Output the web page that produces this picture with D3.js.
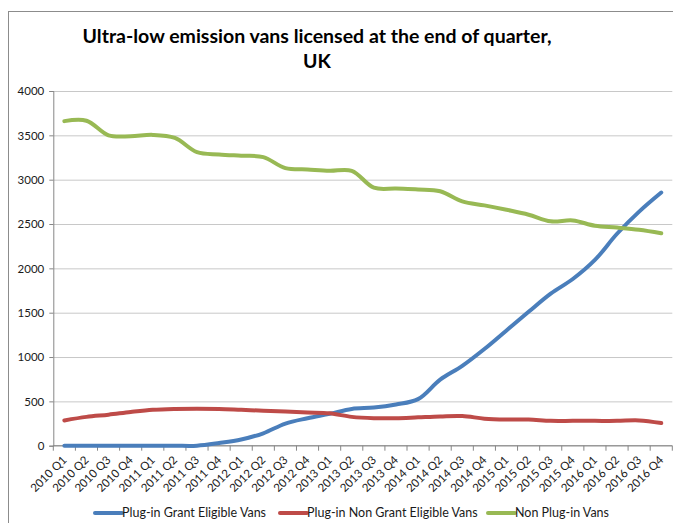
<!DOCTYPE html>
<html>
<head>
<meta charset="utf-8">
<script src="https://cdn.jsdelivr.net/npm/d3@7"></script>
<style>
  body { margin: 0; background: #fff; }
  svg { display: block; font-family: Lato, "Open Sans", sans-serif; }
</style>
</head>
<body>
<svg class="chart"></svg>
<script>
var quarters = ["2010 Q1","2010 Q2","2010 Q3","2010 Q4","2011 Q1","2011 Q2","2011 Q3","2011 Q4",
  "2012 Q1","2012 Q2","2012 Q3","2012 Q4","2013 Q1","2013 Q2","2013 Q3","2013 Q4",
  "2014 Q1","2014 Q2","2014 Q3","2014 Q4","2015 Q1","2015 Q2","2015 Q3","2015 Q4",
  "2016 Q1","2016 Q2","2016 Q3","2016 Q4"];

var grantEligible = [0,0,0,0,0,0,0,30,70,140,250,310,360,415,430,465,
  525,745,900,1090,1300,1510,1715,1880,2095,2390,2640,2855];
var nonGrantEligible = [285,325,350,380,405,415,418,415,405,395,385,375,365,325,310,310,
  320,330,335,305,295,295,280,280,280,280,285,255];
var nonPlugIn = [3660,3665,3500,3490,3505,3470,3310,3285,3270,3255,3130,3115,3100,3100,2910,2900,
  2890,2870,2755,2710,2660,2605,2530,2540,2480,2460,2435,2395];

var seriesNames = ["Plug-in Grant Eligible Vans", "Plug-in Non Grant Eligible Vans", "Non Plug-in Vans"];
var seriesValues = [grantEligible, nonGrantEligible, nonPlugIn];
var seriesColors = ["#4a7ebb", "#be4b48", "#98b954"];
var yTicks = [0,500,1000,1500,2000,2500,3000,3500,4000];
var titleLines = ["Ultra-low emission vans licensed at the end of quarter,", "UK"];

var W = 673, H = 523;
var plotLeft = 53.3, plotRight = 672.3, plotTop = 91, plotBottom = 445.7;

var svg = d3.select(".chart").attr("width", W).attr("height", H);

// outer chart frame (runs off the right/bottom of the picture)
svg.append("rect")
    .attr("x", 8.5).attr("y", 11.5)
    .attr("width", 800).attr("height", 800)
    .attr("fill", "none")
    .attr("stroke", "#8c8c8c");

svg.append("text")
    .attr("x", 317).attr("y", 43)
    .attr("text-anchor", "middle")
    .style("font-weight", "bold")
    .style("font-size", "19.5px")
    .selectAll("tspan")
    .data(titleLines)
  .enter().append("tspan")
    .attr("x", 317)
    .attr("dy", (d, i) => i ? 24.5 : 0)
    .text(d => d);

var x = d3.scaleBand().domain(quarters).range([plotLeft, plotRight]).padding(0);
var y = d3.scaleLinear().domain([0, 4000]).range([plotBottom, plotTop]);
var cx = d => x(d) + x.bandwidth() / 2;

// gridlines
svg.append("g")
    .attr("transform", "translate(" + plotLeft + ",0)")
    .call(d3.axisLeft(y).tickValues(yTicks).tickSize(-(plotRight - plotLeft)).tickFormat(""))
    .call(g => g.select(".domain").remove())
    .call(g => g.selectAll("line").attr("stroke", "#c8c8c8"));

// y axis
svg.append("g")
    .attr("transform", "translate(" + plotLeft + ",0)")
    .call(d3.axisLeft(y).tickValues(yTicks).tickSize(4).tickPadding(5).tickFormat(d3.format("d")))
    .call(g => g.select(".domain").attr("stroke", "#868686"))
    .call(g => g.selectAll("line").attr("stroke", "#868686"))
    .call(g => g.selectAll("text").style("font-size", "11.5px").style("font-family", "Lato").attr("fill", "#1a1a1a"));

// x axis line + ticks at category boundaries
var xAxis = svg.append("g");
xAxis.append("line")
    .attr("x1", plotLeft).attr("x2", plotRight)
    .attr("y1", plotBottom).attr("y2", plotBottom)
    .attr("stroke", "#868686");
xAxis.selectAll(".tk")
    .data(quarters.concat(["end"]))
  .enter().append("line")
    .attr("class", "tk")
    .attr("x1", (d, i) => i < quarters.length ? x(d) : plotRight)
    .attr("x2", (d, i) => i < quarters.length ? x(d) : plotRight)
    .attr("y1", plotBottom).attr("y2", plotBottom + 5)
    .attr("stroke", "#868686");
xAxis.selectAll(".lbl")
    .data(quarters)
  .enter().append("text")
    .attr("class", "lbl")
    .attr("transform", d => "translate(" + (cx(d) + 3) + "," + (plotBottom + 15) + ") rotate(-45)")
    .attr("text-anchor", "end")
    .style("font-size", "11.5px")
    .attr("fill", "#1a1a1a")
    .text(d => d);

var line = d3.line()
    .x((d, i) => cx(quarters[i]))
    .y(d => y(d))
    .curve(d3.curveCatmullRom.alpha(0.5));

svg.append("g").selectAll(".series")
    .data(seriesValues)
  .enter().append("path")
    .attr("class", "series")
    .attr("d", d => line(d))
    .attr("fill", "none")
    .attr("stroke", (d, i) => seriesColors[i])
    .attr("stroke-width", 4)
    .attr("stroke-linejoin", "round")
    .attr("stroke-linecap", "round");

// legend
var legendX = [95, 280, 488];
var legend = svg.append("g").selectAll(".leg")
    .data(seriesNames)
  .enter().append("g")
    .attr("class", "leg")
    .attr("transform", (d, i) => "translate(" + legendX[i] + ",513)");
legend.append("line")
    .attr("x1", 0).attr("x2", 27)
    .attr("stroke", (d, i) => seriesColors[i])
    .attr("stroke-width", 4)
    .attr("stroke-linecap", "round");
legend.append("text")
    .attr("x", 27).attr("dy", "0.35em")
    .style("font-size", "12.5px")
    .attr("fill", "#1a1a1a")
    .text(d => d);
</script>
</body>
</html>
